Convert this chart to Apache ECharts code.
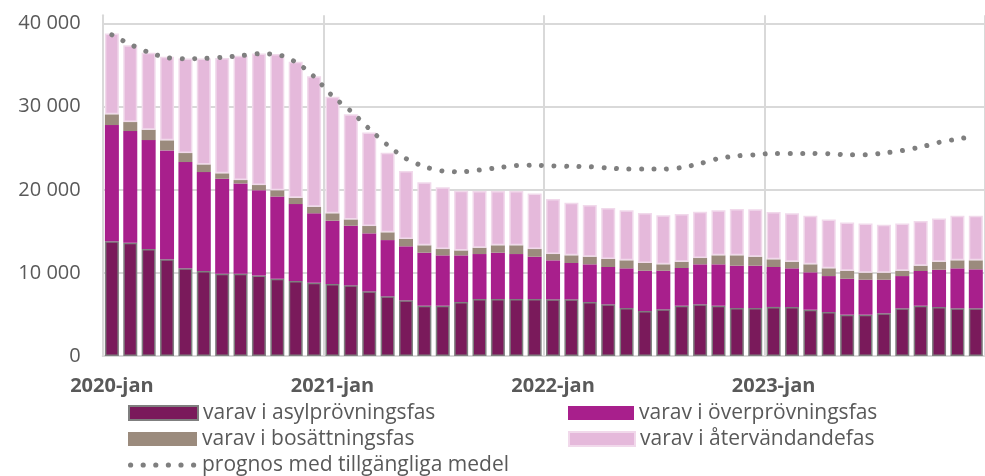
<!DOCTYPE html>
<html>
<head>
<meta charset="utf-8">
<script src="https://cdn.jsdelivr.net/npm/echarts@6/dist/echarts.min.js"></script>
<style>
  html, body { margin: 0; padding: 0; background: #fff; }
  #chart { width: 985px; height: 476px; }
</style>
</head>
<body>
<div id="chart"></div>
<script>
const years = [2020, 2021, 2022, 2023];
const months = ["jan", "feb", "mar", "apr", "maj", "jun", "jul", "aug", "sep", "okt", "nov", "dec"];
const categories = years.flatMap(y => months.map(m => y + "-" + m));

const asyl = [13800, 13630, 12870, 11630, 10550, 10230, 9900, 9900, 9700, 9300, 9020, 8820,
  8660, 8500, 7780, 7180, 6700, 6050, 6050, 6500, 6860, 6860, 6860, 6860,
  6820, 6820, 6500, 6220, 5770, 5410, 5620, 6050, 6220, 6050, 5770, 5770,
  5900, 5890, 5570, 5290, 4970, 4970, 5140, 5740, 6050, 5890, 5740, 5740];
const overprovning = [13990, 13440, 13110, 13110, 12790, 11900, 11430, 10860, 10250, 9890, 9260, 8350,
  7620, 7180, 6980, 6770, 6500, 6380, 6060, 5610, 5410, 5570, 5410, 5090,
  4690, 4370, 4530, 4490, 4780, 4850, 4640, 4540, 4810, 4980, 5100, 5100,
  4810, 4660, 4500, 4330, 4330, 4210, 4040, 3880, 4180, 4490, 4810, 4690];
const bosattning = [1290, 1080, 1250, 1210, 1080, 930, 650, 410, 620, 760, 760, 790,
  890, 760, 880, 930, 880, 890, 760, 600, 760, 890, 1050, 920,
  760, 920, 920, 960, 960, 930, 770, 750, 760, 1080, 1240, 1080,
  920, 790, 960, 930, 960, 840, 840, 640, 640, 960, 960, 1080];
const atervandande = [9720, 9260, 9260, 10060, 11390, 12750, 13870, 14960, 15840, 16380, 16360, 15720,
  14020, 12640, 11270, 9580, 8180, 7580, 7430, 7180, 6820, 6530, 6530, 6700,
  6620, 6340, 6220, 6130, 6020, 6010, 5900, 5740, 5570, 5420, 5570, 5700,
  5690, 5830, 5850, 5890, 5820, 5940, 5780, 5700, 5370, 5220, 5370, 5370];
const prognos = [38650, 37500, 36550, 35910, 35770, 35810, 35950, 36130, 36370, 36270, 35370, 33620,
  31280, 29470, 27340, 25380, 23760, 22800, 22260, 22170, 22380, 22650, 22920, 22950,
  22880, 22820, 22770, 22620, 22500, 22500, 22500, 22680, 23160, 23760, 24080, 24220,
  24380, 24380, 24380, 24350, 24230, 24230, 24420, 24720, 25140, 25710, 26100, 26470];
const yTicks = [0, 10000, 20000, 30000, 40000];

const font = "'Open Sans', 'Noto Sans', sans-serif";
const textGrey = "#595959";
const fmt = v => String(v).replace(/\B(?=(\d{3})+(?!\d))/g, " ");

// six round dots for the forecast legend entry (corner moves keep the box 69x14)
const dotIcon = "path://M0,0M69,14" + [0, 1, 2, 3, 4, 5].map(k => {
  const cx = 2.6 + k * 12.6;
  return "M" + (cx - 2.6) + ",7a2.6,2.6 0 1,0 5.2,0a2.6,2.6 0 1,0 -5.2,0z";
}).join("");

const chart = echarts.init(document.getElementById("chart"), null, { renderer: "canvas" });

function bar(name, data, color, border) {
  return {
    name, type: "bar", stack: "total", data, barWidth: 14,
    itemStyle: { color, borderColor: border || color, borderWidth: border ? 1.5 : 0 }
  };
}

function legendRow(item, left, top, width) {
  return {
    data: [item], left, top, padding: 0, icon: "rect", itemWidth: width, itemHeight: 14,
    textStyle: { color: textGrey, fontSize: 21, lineHeight: 22, fontFamily: font }
  };
}

chart.setOption({
  animation: false,
  textStyle: { fontFamily: font },
  grid: { left: 102.7, right: -9.5, top: 15.3, bottom: 120 },
  legend: [
    legendRow("varav i asylprövningsfas", 128, 402, 69),
    legendRow("varav i överprövningsfas", 568, 402, 66),
    legendRow("varav i bosättningsfas", 128, 428, 69),
    legendRow("varav i återvändandefas", 568, 428, 66),
    legendRow({ name: "prognos med tillgängliga medel", icon: dotIcon }, 128, 454, 69)
  ],
  xAxis: {
    type: "category", data: categories, boundaryGap: true,
    axisLine: { lineStyle: { color: "#d9d9d9", width: 2 } },
    axisTick: { show: false },
    axisLabel: {
      interval: i => i % 12 === 0, margin: 20,
      color: textGrey, fontSize: 20, fontWeight: "bold", fontFamily: font
    },
    splitLine: {
      show: true, interval: i => i % 12 === 0,
      lineStyle: { color: "#d9d9d9", width: 2 }
    }
  },
  yAxis: {
    type: "value", min: yTicks[0], max: 41000, interval: 10000,
    axisLine: { show: true, lineStyle: { color: "#d9d9d9", width: 2 } },
    axisTick: { show: false },
    axisLabel: {
      showMaxLabel: false, margin: 22,
      formatter: v => (yTicks.includes(v) ? fmt(v) : ""),
      color: textGrey, fontSize: 20, fontFamily: font
    },
    splitLine: { showMaxLine: false, lineStyle: { color: "#d9d9d9", width: 2 } }
  },
  series: [
    bar("varav i asylprövningsfas", asyl, "#7a1a5b", "#7f7f7f"),
    bar("varav i överprövningsfas", overprovning, "#a81f8c"),
    bar("varav i bosättningsfas", bosattning, "#9b8b7d"),
    bar("varav i återvändandefas", atervandande, "#e5b9db", "#f1d9eb"),
    {
      name: "prognos med tillgängliga medel", type: "line", data: prognos,
      smooth: 0.3, symbol: "none", z: 5,
      itemStyle: { color: "#7f7f7f" },
      lineStyle: { color: "#7f7f7f", width: 5, type: [0.01, 12.5], cap: "round" }
    }
  ]
});
</script>
</body>
</html>
